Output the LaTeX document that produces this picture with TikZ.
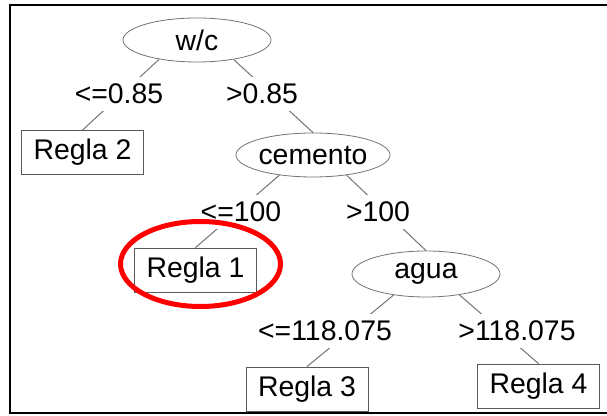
\documentclass[tikz,border=0pt]{standalone}
\usepackage{fontspec}
\setmainfont{Liberation Sans}
\usetikzlibrary{shapes.geometric}

\begin{document}
\begin{tikzpicture}[x=0.5pt,y=-0.5pt,font=\fontsize{14.2}{17}\selectfont,
  splitnode/.style={draw=black!55,ellipse,inner sep=0pt,minimum width=74pt,minimum height=22pt},
  rulebox/.style={draw=black!65,rectangle,inner sep=0pt,minimum width=61pt,minimum height=22pt},
  cutlabel/.style={fill=white,inner sep=3.5pt},
  branch/.style={draw=black!55,line width=0.5pt}]
\useasboundingbox (0,0) rectangle (607,416);
\draw[line width=1pt] (607,5)--(10,5)--(10,413)--(607,413);
\node[splitnode] (wc) at (197,40) {w/c};
\node[rulebox] (r2) at (82.5,152.5) {Regla 2};
\node[splitnode] (cem) at (313,155) {cemento};
\node[rulebox] (r1) at (195.5,270) {Regla 1};
\node[splitnode,minimum height=23pt] (agua) at (426,274) {agua};
\node[rulebox] (r3) at (307,389) {Regla 3};
\node[rulebox] (r4) at (538.5,386) {Regla 4};
\draw[branch] (wc.207)--(r2.north);
\draw[branch] (wc.332)--(cem.north);
\draw[branch] (cem.211)--(r1.north);
\draw[branch] (cem.-31)--(agua.north);
\draw[branch] (agua.213)--(r3.north);
\draw[branch] (agua.-32)--(r4.north);
\node[cutlabel] (le1) at (119,94) {<=0.85};
\node[cutlabel] (gt1) at (262,94) {>0.85};
\node[cutlabel] (le2) at (241,212) {<=100};
\node[cutlabel] (gt2) at (378,212) {>100};
\node[cutlabel] (le3) at (325,331) {<=118.075};
\node[cutlabel] (gt3) at (517,331) {>118.075};
\node[draw=red,line width=2.5pt,ellipse,inner sep=0pt,minimum width=80pt,minimum height=42.5pt] (mark) at (200.5,264) {};
\end{tikzpicture}
\end{document}
